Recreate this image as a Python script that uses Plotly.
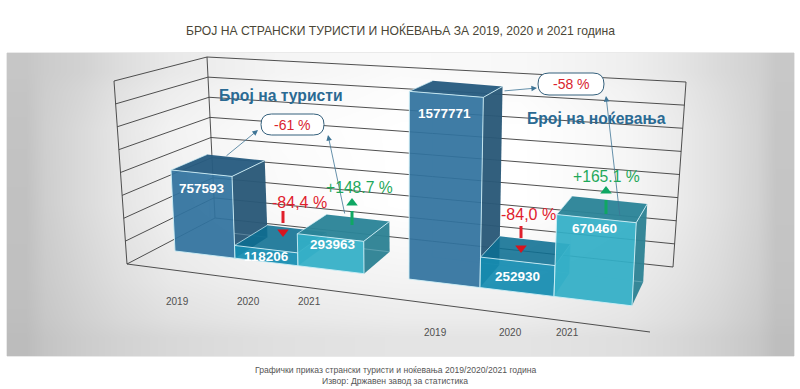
import plotly.graph_objects as go
import numpy as np

# ---------- data ----------
years = ["2019", "2020", "2021"]
tourists = [757593, 118206, 293963]
nights = [1577771, 252930, 670460]
axis_max = 1600000
axis_step = 200000
title = "БРОЈ НА СТРАНСКИ ТУРИСТИ И НОЌЕВАЊА ЗА 2019, 2020 и 2021 година"
caption = ["Графички приказ странски туристи и ноќевања 2019/2020/2021 година",
           "Извор: Државен завод за статистика"]
name_tourists = "Број на туристи"
name_nights = "Број на ноќевања"
change_total = ["-61 %", "-58 %"]
change_drop = ["-84,4 %", "-84,0 %"]
change_rise = ["+148.7 %", "+165.1 %"]

# grey levels of the panel background, read at a coarse grid (cell edges + cell values)
shade_x = [7, 45, 120, 220, 340, 460, 580, 680, 757, 794]
shade_y = [53, 91, 168, 243, 318, 356]
shade = [
    [198, 210, 232, 244, 250, 248, 238, 218, 200],
    [195, 218, 242, 252, 255, 255, 245, 224, 198],
    [193, 218, 240, 250, 255, 255, 245, 224, 197],
    [192, 212, 232, 240, 243, 243, 235, 218, 195],
    [188, 204, 216, 224, 228, 228, 222, 208, 190],
]

# ---------- pseudo-3D projection (page is the axis system) ----------
edges_1 = [175, 235, 298, 364]
edges_2 = [409, 480, 554, 632]
scale_1 = (1.07e-4, 1.10e-4)
scale_2 = (1.19e-4, 1.24e-4)


def project(xb, value, depth, edges, scale):
    s = np.interp(xb, [edges[0], edges[-1]], scale)
    h = value * s
    px = xb + (xb - 400) * 0.00022 * h
    py = 251 + (xb - 175) * 0.12 - h
    qx = px + depth * (36 - (px - 171) * 0.0538)
    qy = py + depth * (-10.5 - (py - 91) * 0.062)
    return float(qx), float(qy)


fig = go.Figure()
fig.add_trace(go.Heatmap(x=shade_x, y=shade_y, z=shade, zmin=0, zmax=255, zsmooth="best",
                         colorscale=[[0, "rgb(0,0,0)"], [1, "rgb(255,255,255)"]],
                         showscale=False, hoverinfo="skip"))


def seg(p, q, color="#3c3c3c", width=0.9):
    fig.add_trace(go.Scatter(x=[p[0], q[0]], y=[p[1], q[1]], mode="lines",
                             line=dict(color=color, width=width),
                             hoverinfo="skip", showlegend=False))


def face(points, fill, edge=None):
    xs = [p[0] for p in points] + [points[0][0]]
    ys = [p[1] for p in points] + [points[0][1]]
    fig.add_trace(go.Scatter(x=xs, y=ys, mode="lines", fill="toself", fillcolor=fill,
                             line=dict(color=edge or "rgba(0,0,0,0)", width=1 if edge else 0),
                             hoverinfo="skip", showlegend=False))


# walls
FBL, FTL = (127, 264), (114, 81)
BBL, BTL = (215, 218), (207, 57)
BBR, BTR = (673, 267), (686, 82)
FBR = (650, 332)


def lerp(a, b, t):
    return (a[0] + (b[0] - a[0]) * t, a[1] + (b[1] - a[1]) * t)


for tick in np.arange(0, axis_max + 1, axis_step):
    t = tick / axis_max
    seg(lerp(FBL, FTL, t), lerp(BBL, BTL, t))
    seg(lerp(BBL, BTL, t), lerp(BBR, BTR, t))
seg(FBL, FTL)
seg(BBL, BTL)
seg(BBR, BTR)
seg(FBL, FBR)

# bars: front, top, side colours per year
colours = [
    ("rgba(48,114,158,0.93)", "rgba(40,92,128,0.96)", "rgba(42,88,120,0.96)"),
    ("rgba(20,140,176,0.93)", "rgba(12,110,146,0.88)", "rgba(40,160,188,0.70)"),
    ("rgba(50,174,198,0.93)", "rgba(44,132,152,0.96)", "rgba(46,130,148,0.96)"),
]
edge_col = "rgba(205,238,246,0.9)"


def bars(values, edges, scale):
    for i, v in enumerate(values):
        a, b = edges[i], edges[i + 1]
        P = lambda x, val, d: project(x, val, d, edges, scale)
        cf, ct, cs = colours[i]
        face([P(b, 0, 0), P(b, 0, 1), P(b, v, 1), P(b, v, 0)], cs)
        seg(P(a, 0, 1), P(a, v, 1), "rgba(200,230,240,0.35)", 0.8)
        seg(P(a, 0, 1), P(b, 0, 1), "rgba(200,230,240,0.35)", 0.8)
        face([P(a, v, 0), P(a, v, 1), P(b, v, 1), P(b, v, 0)], ct)
        face([P(a, 0, 0), P(b, 0, 0), P(b, v, 0), P(a, v, 0)], cf, edge_col)
        seg(P(b, v, 0), P(b, v, 1), edge_col, 1)
        seg(P(a, v, 0), P(a, v, 1), edge_col, 0.8)


bars(tourists, edges_1, scale_1)
bars(nights, edges_2, scale_2)


def note(x, y, text, size, color, bold=False):
    fig.add_annotation(x=x, y=y, text=f"<b>{text}</b>" if bold else text, showarrow=False,
                       font=dict(family="Liberation Sans, Arial", size=size, color=color),
                       xanchor="center", yanchor="middle")


def arrow(x0, y0, x1, y1):
    fig.add_annotation(x=x1, y=y1, ax=x0, ay=y0, xref="x", yref="y", axref="x", ayref="y",
                       text="", showarrow=True, arrowhead=2, arrowsize=1.4, arrowwidth=0.8,
                       arrowcolor="#3f7596")


# value labels on the bars
label_pos = [(202, 188), (266, 256), (333, 244), (444, 113), (517, 276), (594, 228)]
for (x, y), v in zip(label_pos, tourists + nights):
    note(x, y, str(v), 13.5, "white", True)

# year labels
for x, y, yr in zip([177, 248, 309, 435, 510, 567], [301, 301, 301, 332, 332, 332], years + years):
    note(x, y, yr, 10, "#505050")

# group names
note(281, 95, name_tourists, 15.7, "#2a6a93", True)
note(596, 118, name_nights, 15.7, "#2a6a93", True)

# call-out pills
for (x0, y0, x1, y1), txt in zip([(261, 114, 324, 135), (538, 73, 604, 95)], change_total):
    r = (y1 - y0) / 2
    path = (f"M {x0+r} {y0} L {x1-r} {y0} Q {x1} {y0} {x1} {y0+r} Q {x1} {y1} {x1-r} {y1} "
            f"L {x0+r} {y1} Q {x0} {y1} {x0} {y0+r} Q {x0} {y0} {x0+r} {y0} Z")
    fig.add_shape(type="path", path=path, xref="x", yref="y", fillcolor="white",
                  line=dict(color="#34607c", width=1), layer="above")
    note((x0 + x1) / 2, (y0 + y1) / 2, txt, 14, "#d9232e")

arrow(225, 157, 258, 130)
arrow(345, 215, 328, 135)
arrow(503, 91, 537, 88)
arrow(620, 217, 606, 96)

# change labels and little arrows
for (x, y), txt in zip([(299, 202), (528, 214)], change_drop):
    note(x, y, txt, 16, "#e0202c")
for (x, y), txt in zip([(359, 187), (606, 176)], change_rise):
    note(x, y, txt, 15.7, "#1fa85a")

for x, y0, y1, tip in [(283, 211, 223, 232), (521, 226, 238, 248)]:
    fig.add_shape(type="line", x0=x, x1=x, y0=y0, y1=y1, xref="x", yref="y",
                  line=dict(color="#e0202c", width=3), layer="above")
    fig.add_trace(go.Scatter(x=[x], y=[tip], mode="markers", hoverinfo="skip", showlegend=False,
                             marker=dict(symbol="triangle-down", size=10, color="#d8141e")))
for x, y0, y1, tip in [(352, 211, 225, 203), (606, 200, 214, 191)]:
    fig.add_shape(type="line", x0=x, x1=x, y0=y0, y1=y1, xref="x", yref="y",
                  line=dict(color="#0fa763", width=3), layer="above")
    fig.add_trace(go.Scatter(x=[x], y=[tip], mode="markers", hoverinfo="skip", showlegend=False,
                             marker=dict(symbol="triangle-up", size=10, color="#0fa763")))

# panel outline
fig.add_shape(type="rect", x0=7, x1=794, y0=53, y1=356, xref="x", yref="y",
              line=dict(color="#d4d4d4", width=1), layer="below")

# titles
note(400, 30, title, 12.15, "#4a4636")
note(395, 370, caption[0], 8.6, "#555555")
note(395, 381, caption[1], 8.6, "#555555")

fig.update_layout(
    width=800, height=389, margin=dict(l=0, r=0, t=0, b=0),
    paper_bgcolor="white", plot_bgcolor="white", showlegend=False,
    xaxis=dict(range=[0, 800], visible=False, fixedrange=True),
    yaxis=dict(range=[389, 0], visible=False, fixedrange=True),
)
fig.write_html("out.html", config={"displayModeBar": False},
               post_script="document.body.style.margin='0';document.body.style.overflow='hidden';")
